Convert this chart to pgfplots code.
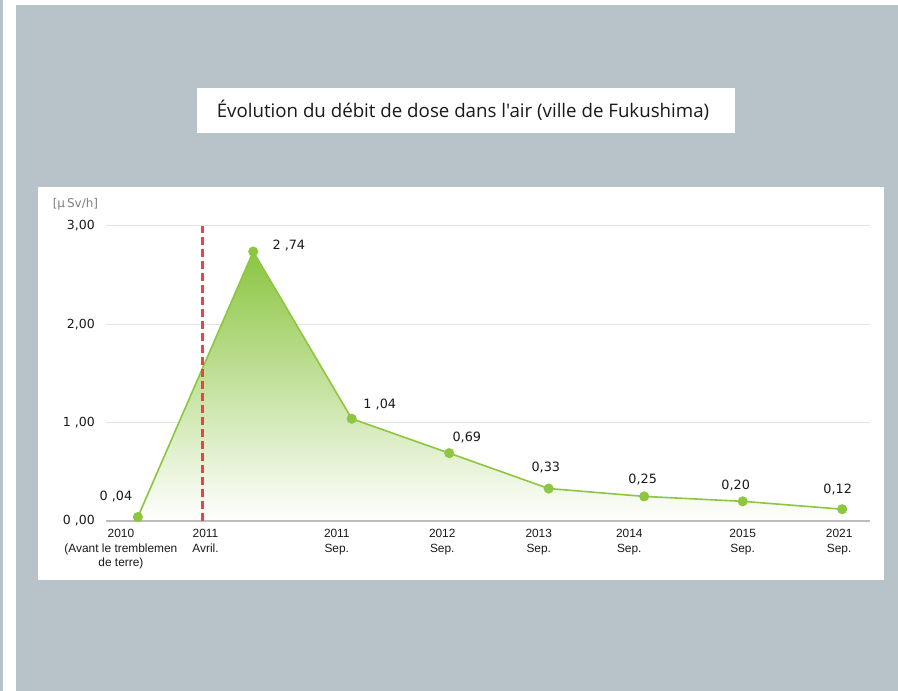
\documentclass[border=0pt]{standalone}
\usepackage{fontspec}
\usepackage{pgfplots}
\pgfplotsset{compat=1.18}
\setmainfont{Liberation Sans}
\newfontfamily\titlefont{Open Sans}
\newfontfamily\verd{DejaVu Sans}
\definecolor{bg}{HTML}{B8C2C9}
\definecolor{lgreen}{HTML}{8DC63F}
\definecolor{fgreen}{HTML}{8BC541}
\definecolor{gridc}{HTML}{E3E3E3}
\definecolor{axc}{HTML}{BDBDBD}
\definecolor{redd}{HTML}{EE4146}
\definecolor{txt}{HTML}{1A1A1A}
\begin{document}
\begin{tikzpicture}[x=1bp,y=1bp]
\fill[white] (0,0) rectangle (898,691);
\fill[bg] (0,0) rectangle (3,691);
\fill[bg] (16,0) rectangle (898,686);
\fill[white] (197,558) rectangle (735,603);
\node[font=\titlefont\fontsize{18.7bp}{22bp}\selectfont, text=txt] at (463,581) {Évolution du débit de dose dans l'air (ville de Fukushima)};
\fill[white] (38,111) rectangle (884,504);
\node[font=\verd\fontsize{12bp}{14bp}\selectfont, text=black!50] at (75.5,487) {[μ\,Sv/h]};
\begin{axis}[
  at={(106bp,170bp)}, anchor=south west,
  scale only axis, width=764bp, height=295bp,
  xmin=-0.32, xmax=7.36, ymin=0, ymax=3,
  clip=false,
  axis line style={draw=none},
  major tick length=0pt,
  ytick={0,1,2,3}, yticklabels={{0 ,00},{1 ,00},{2,00},{3,00}},
  ymajorgrids, major grid style={draw=gridc, line width=1bp},
  yticklabel style={font=\verd\fontsize{12.5bp}{15bp}\selectfont, text=txt, anchor=east, inner sep=0pt, xshift=-11bp},
  xtick={-0.17,0.68,2.0,3.06,4.03,4.94,6.08,7.05},
  xticklabels={{2010\\(Avant le tremblemen\\de terre)},{2011\\Avril.},{2011\\Sep.},{2012\\Sep.},{2013\\Sep.},{2014\\Sep.},{2015\\Sep.},{2021\\Sep.}},
  xticklabel style={font=\fontsize{11.9bp}{14.5bp}\selectfont, text=txt, align=center, anchor=north, inner sep=0pt, yshift=-8bp},
]
\addplot[draw=none, top color=fgreen, bottom color=white, forget plot] coordinates {
(0,0.04) (1.16,2.74) (2.15,1.04) (3.13,0.69) (4.13,0.33) (5.09,0.25) (6.08,0.20) (7.08,0.12)} \closedcycle;
\draw[axc, line width=1.2bp] (axis cs:-0.32,0) -- (axis cs:7.36,0);
\addplot[lgreen, line width=1.6bp, mark=*, mark size=4.2bp, mark options={draw=none, fill=lgreen}] coordinates {
(0,0.04) (1.16,2.74) (2.15,1.04) (3.13,0.69) (4.13,0.33) (5.09,0.25) (6.08,0.20) (7.08,0.12)};
\addplot[redd, line width=2.2bp, dash pattern=on 8bp off 4bp] coordinates {(0.65,0) (0.65,3)};
\begin{scope}[every node/.style={font=\verd\fontsize{12.8bp}{15bp}\selectfont, text=txt, inner sep=0pt}]
\node at (axis cs:-0.22,0.254) {0 ,04};
\node at (axis cs:1.518,2.80) {2 ,74};
\node at (axis cs:2.432,1.18) {1 ,04};
\node at (axis cs:3.307,0.854) {0,69};
\node at (axis cs:4.101,0.549) {0,33};
\node at (axis cs:5.075,0.417) {0,25};
\node at (axis cs:6.010,0.356) {0,20};
\node at (axis cs:7.035,0.325) {0,12};
\end{scope}
\end{axis}
\end{tikzpicture}
\end{document}
